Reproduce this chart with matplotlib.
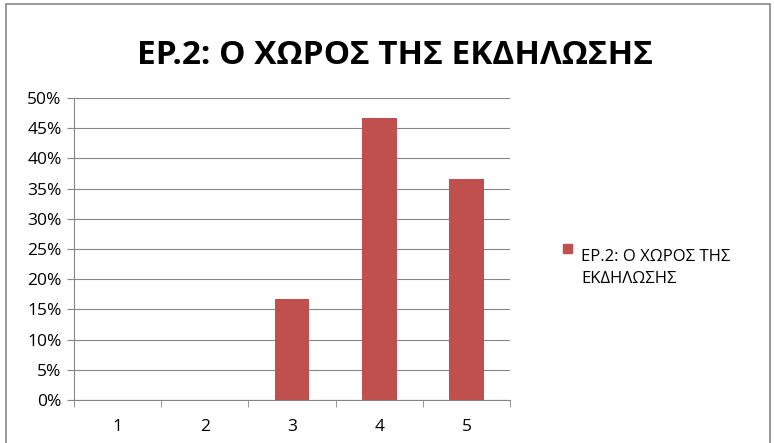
import matplotlib.pyplot as plt
from matplotlib.patches import Rectangle
from matplotlib.ticker import PercentFormatter

plt.rcParams['font.family'] = ['Open Sans', 'DejaVu Sans']

# δεδομένα
categories = ['1', '2', '3', '4', '5']
values = [0, 0, 16.67, 46.67, 36.67]
series_name = 'ΕΡ.2: Ο ΧΩΡΟΣ ΤΗΣ\nΕΚΔΗΛΩΣΗΣ'
title = 'ΕΡ.2: Ο ΧΩΡΟΣ ΤΗΣ ΕΚΔΗΛΩΣΗΣ'
bar_color = '#c0504d'

fig = plt.figure(figsize=(7.74, 4.43), dpi=100)
ax = fig.add_axes([74 / 774, 1 - 400 / 443, 436 / 774, 302 / 443])

index = range(len(categories))
ax.bar(index, values, 0.4, color=bar_color, zorder=3, label=series_name)

ax.set_xlim(-0.5, len(categories) - 0.5)
ax.set_ylim(0, 50)
ax.set_yticks(range(0, 51, 5))
ax.yaxis.set_major_formatter(PercentFormatter(decimals=0))
ax.set_xticks(list(index))
ax.set_xticklabels(categories)
ax.set_xticks([i - 0.5 for i in range(len(categories) + 1)], minor=True)
ax.tick_params(axis='x', which='major', length=0, pad=14, labelsize=12.5)
ax.tick_params(axis='x', which='minor', length=5, color='#868686', direction='out')
ax.tick_params(axis='y', length=5, color='#868686', labelsize=12.5, pad=4)
ax.grid(axis='y', color='#868686', linewidth=0.8, zorder=0)

for s in ['top', 'right']:
    ax.spines[s].set_visible(False)
for s in ['left', 'bottom']:
    ax.spines[s].set_color('#868686')

fig.text(395 / 774, 1 - 55 / 443, title, ha='center', va='center',
         fontsize=24, fontweight='bold')

# υπόμνημα
fig.patches.append(Rectangle((563 / 774, 1 - 253 / 443), 9 / 774, 9 / 443,
                             transform=fig.transFigure, color=bar_color))
fig.text(581 / 774, 1 - 249 / 443, series_name, ha='left', va='top',
         fontsize=12, linespacing=1.5)

# περίγραμμα γραφήματος
fig.patches.append(Rectangle((6 / 774, -0.01), 1 - 10 / 774, 1.0,
                             transform=fig.transFigure, fill=False,
                             edgecolor='#868686', linewidth=1.2))

fig.savefig('out.png', dpi=100)
